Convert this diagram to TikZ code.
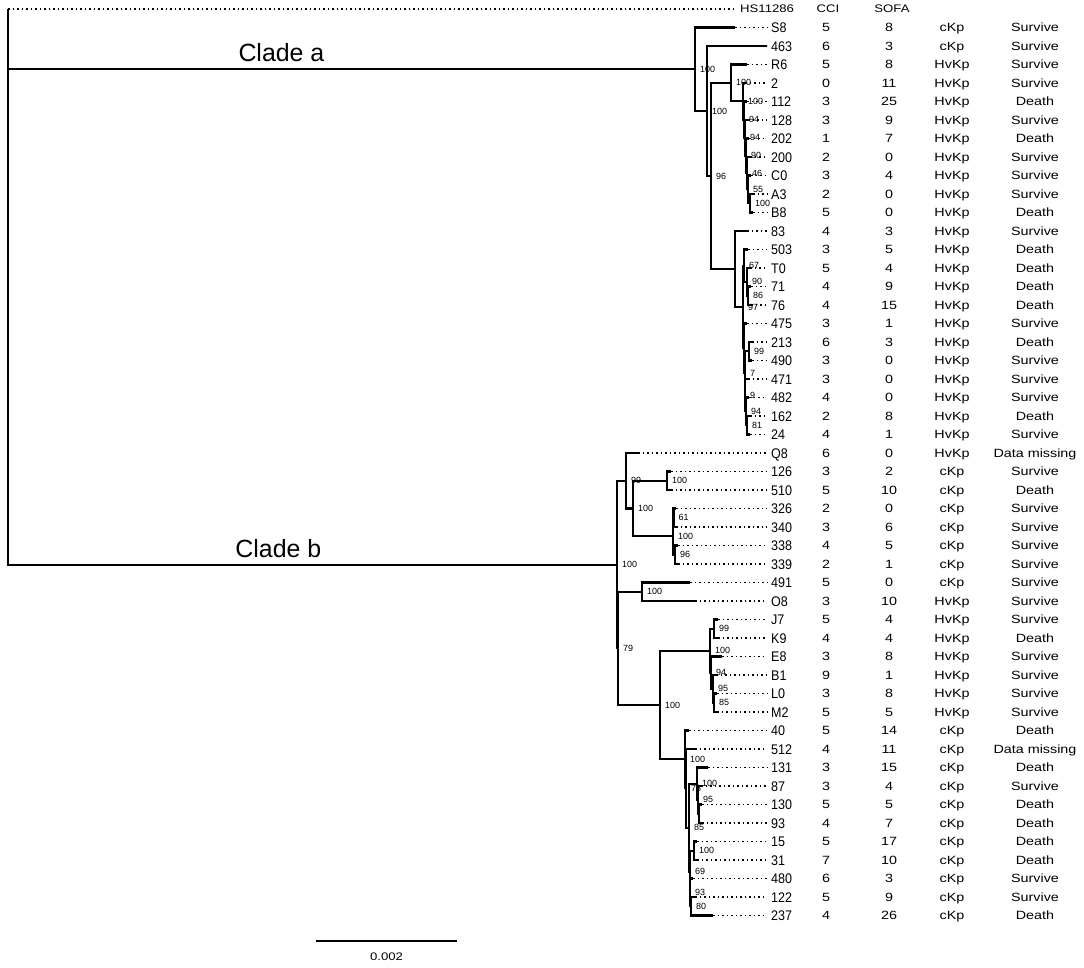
\documentclass[tikz,border=0pt]{standalone}
\usepackage{fontspec}
\setmainfont{Liberation Sans}
\newfontfamily\leaffont[FakeStretch=0.9]{Liberation Sans}
\newfontfamily\tabfont[FakeStretch=1.2]{Liberation Sans}
\usetikzlibrary{positioning}

\begin{document}
\begin{tikzpicture}[
    x=1bp, y=-1bp,
    label distance=5bp,
br/.style = {line width=2.1bp},
dots/.style = {line width=1.2bp, dash pattern=on 1.5bp off 3bp},
leaf/.style = {anchor=west, inner sep=0pt, text height=10bp, text depth=0pt,
               font=\leaffont\fontsize{14}{14}\selectfont},
cell/.style = {inner sep=0pt, text height=8.6bp, text depth=0pt,
               font=\tabfont\fontsize{12}{12}\selectfont},
head/.style = {cell, text height=7.9bp, font=\tabfont\fontsize{11}{11}\selectfont},
bs/.style = {inner sep=0pt, font=\fontsize{9}{9}\selectfont},
clade/.style = {inner sep=0pt, font=\fontsize{25}{25}\selectfont}
                        ]
\useasboundingbox (0,0) rectangle (1084,968);
% leaves and table
\foreach \lab/\tx/\cci/\sofa/\typ/\out [count=\i] in {
    S8/735/5/8/cKp/Survive, 463/767/6/3/cKp/Survive,
    R6/747/5/8/HvKp/Survive, 2/745/0/11/HvKp/Survive,
    112/747/3/25/HvKp/Death, 128/748/3/9/HvKp/Survive,
    202/749/1/7/HvKp/Death, 200/750/2/0/HvKp/Survive,
    C0/751/3/4/HvKp/Survive, A3/753/2/0/HvKp/Survive,
    B8/753/5/0/HvKp/Death, 83/747/4/3/HvKp/Survive,
    503/748/3/5/HvKp/Death, T0/750/5/4/HvKp/Death,
    71/751/4/9/HvKp/Death, 76/751/4/15/HvKp/Death,
    475/747/3/1/HvKp/Survive, 213/752/6/3/HvKp/Death,
    490/752/3/0/HvKp/Survive, 471/748/3/0/HvKp/Survive,
    482/749/4/0/HvKp/Survive, 162/750/2/8/HvKp/Death,
    24/750/4/1/HvKp/Survive, Q8/638/6/0/HvKp/Data missing,
    126/671/3/2/cKp/Survive, 510/671/5/10/cKp/Death,
    326/676/2/0/cKp/Survive, 340/676/3/6/cKp/Survive,
    338/678/4/5/cKp/Survive, 339/678/2/1/cKp/Survive,
    491/690/5/0/cKp/Survive, O8/695/3/10/HvKp/Survive,
    J7/718/5/4/HvKp/Survive, K9/718/4/4/HvKp/Death,
    E8/722/3/8/HvKp/Survive, B1/716/9/1/HvKp/Survive,
    L0/717/3/8/HvKp/Survive, M2/717/5/5/HvKp/Survive,
    40/689/5/14/cKp/Death, 512/695/4/11/cKp/Data missing,
    131/708/3/15/cKp/Death, 87/701/3/4/cKp/Survive,
    130/702/5/5/cKp/Death, 93/702/4/7/cKp/Death,
    15/697/5/17/cKp/Death, 31/697/7/10/cKp/Death,
    480/693/6/3/cKp/Survive, 122/695/5/9/cKp/Survive,
    237/713/4/26/cKp/Death}
{
  \coordinate (t\i) at (\tx,{9+18.5*\i});
  \node[leaf] (l\i) at (771,{9+18.5*\i}) {\lab};
  \node[cell] (c\i) at (826,{9+18.5*\i}) {\cci};
  \node[cell] (f\i) at (889,{9+18.5*\i}) {\sofa};
  \node[cell] (k\i) at (952,{9+18.5*\i}) {\typ};
  \node[cell] (o\i) at (1035,{9+18.5*\i}) {\out};
  \draw[dots] (t\i) -- ([xshift=-4bp]l\i.west);
}
\node[head] (hcci)  at (828,9) {CCI};
\node[head] (hsofa) at (892,9) {SOFA};
\node[head, anchor=west] (hs) at (740,9) {HS11286};
% clade a
\coordinate (root) at (8,9);
\coordinate[label={[bs]right:100}] (na) at (695,69.2);
\coordinate[label={[bs]right:100}] (a2) at (707,111);
\coordinate[label={[bs]right:96}]  (a3) at (711,176);
\coordinate[label={[bs]right:100}] (a4) at (731,82.9);
\coordinate[label={[bs]right:100}] (L1) at (743,101.4);
\coordinate[label={[bs]right:94}]  (L2) at (744,119.7);
\coordinate[label={[bs]right:94}]  (L3) at (745,137.9);
\coordinate[label={[bs]right:90}]  (L4) at (746,155.8);
\coordinate[label={[bs]right:46}]  (L5) at (747,173.2);
\coordinate[label={[bs]right:55}]  (L6) at (748,189.4);
\coordinate[label={[bs]right:100}] (L7) at (750,203.3);
\coordinate (a5) at (735,269);
\coordinate[label={[bs]right:97}]  (s0) at (743,307);
\coordinate[label={[bs]right:67}]  (s1) at (744,265.7);
\coordinate[label={[bs]right:90}]  (s2) at (747,281.9);
\coordinate[label={[bs]right:86}]  (s3) at (748,295.8);
\coordinate (s5) at (744,348.4);
\coordinate[label={[bs]right:7}]   (s6) at (745,373.2);
\coordinate[label={[bs]right:99}]  (s7) at (749,351.3);
\coordinate[label={[bs]right:9}]   (s8) at (745,395.2);
\coordinate[label={[bs]right:94}]  (s9) at (746,411.4);
\coordinate[label={[bs]right:81}]  (s10) at (747,425.3);
% clade b
\coordinate[label={[bs]right:100}] (nb) at (617,564.6);
\coordinate[label={[bs]right:99}]  (b1) at (626,480.8);
\coordinate[label={[bs]right:100}] (b2) at (633,508.5);
\coordinate[label={[bs]right:100}] (b3) at (667,480.8);
\coordinate[label={[bs]right:100}] (b4) at (673,536.3);
\coordinate[label={[bs]right:61}]  (b5) at (673.5,517.8);
\coordinate[label={[bs]right:96}]  (b6) at (675,554.8);
\coordinate[label={[bs]right:79}]  (b7) at (618,648.4);
\coordinate[label={[bs]right:100}] (b8) at (642,591.8);
\coordinate[label={[bs]right:100}] (b9) at (660,705.1);
\coordinate[label={[bs]right:100}] (b10) at (710,650.7);
\coordinate[label={[bs]right:99}]  (b11) at (714,628.8);
\coordinate[label={[bs]right:94}]  (b12) at (711,672.7);
\coordinate[label={[bs]right:95}]  (b13) at (713,688.9);
\coordinate[label={[bs]right:85}]  (b14) at (714,702.8);
\coordinate[label={[bs]right:100}] (b15) at (685,759.4);
\coordinate[label={[bs]right:78}]  (b16) at (686,788.3);
\coordinate[label={[bs]right:85}]  (b17) at (689,827.6);
\coordinate[label={[bs]right:100}] (b18) at (697,783.7);
\coordinate[label={[bs]right:95}]  (b19) at (698,799.9);
\coordinate (b20) at (699,813.8);
\coordinate[label={[bs]right:69}]  (b21) at (690,871.6);
\coordinate[label={[bs]right:100}] (b22) at (694,850.8);
\coordinate[label={[bs]right:93}]  (b23) at (690,892.4);
\coordinate[label={[bs]right:80}]  (b24) at (691,906.3);
%
\draw[dots] (root) -- ([xshift=-4bp]hs.west);
\draw[br] (root) |- (na) node[clade, pos=.699, above=6bp] (cla) {Clade a};
\draw[br] (root) |- (nb) node[clade, pos=.722, above=6bp] (clb) {Clade b};
\foreach \p/\c in {na/t1, na/a2, a2/t2, a2/a3, a3/a4, a3/a5, a4/t3, a4/L1,
    L1/t4, L1/L2, L2/t5, L2/L3, L3/t6, L3/L4, L4/t7, L4/L5, L5/t8, L5/L6,
    L6/t9, L6/L7, L7/t10, L7/t11, a5/t12, a5/s0, s0/s1, s0/s5, s1/t13,
    s1/s2, s2/t14, s2/s3, s3/t15, s3/t16, s5/t17, s5/s6, s6/s7, s6/s8,
    s7/t18, s7/t19, s8/t20, s8/s9, s9/t21, s9/s10, s10/t22, s10/t23,
    nb/b1, nb/b7, b1/t24, b1/b2, b2/b3, b2/b4, b3/t25, b3/t26, b4/b5,
    b4/b6, b5/t27, b5/t28, b6/t29, b6/t30, b7/b8, b7/b9, b8/t31, b8/t32,
    b9/b10, b9/b15, b10/b11, b10/b12, b11/t33, b11/t34, b12/t35, b12/b13,
    b13/t36, b13/b14, b14/t37, b14/t38, b15/t39, b15/b16, b16/t40,
    b16/b17, b17/b18, b17/b21, b18/t41, b18/b19, b19/t42, b19/b20,
    b20/t43, b20/t44, b21/b22, b21/b23, b22/t45, b22/t46, b23/t47,
    b23/b24, b24/t48, b24/t49}
    \draw[br] (\p) |- (\c);
% scale bar
\coordinate (sb1) at (316,941);
\coordinate (sb2) at (457,941);
\draw[br] (sb1) -- (sb2) node[head, midway, below=11bp] (sbl) {0.002};
\end{tikzpicture}
\end{document}
